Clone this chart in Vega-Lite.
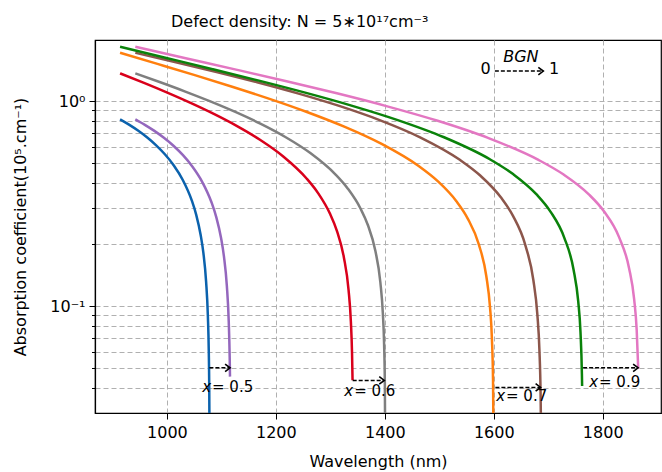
{
  "$schema": "https://vega.github.io/schema/vega-lite/v6.json",
  "autosize": {"type": "none"},
  "padding": {"left": 95, "top": 40, "right": 1, "bottom": 59},
  "width": 566,
  "height": 373,
  "background": "white",
  "title": {
    "text": "Defect density: N = 5∗10¹⁷cm⁻³",
    "anchor": "start",
    "frame": "group",
    "dx": 76,
    "dy": 17,
    "offset": 14,
    "baseline": "alphabetic",
    "font": "DejaVu Sans",
    "fontSize": 16,
    "fontWeight": "normal",
    "color": "black"
  },
  "config": {
    "font": "DejaVu Sans",
    "view": {"stroke": "black", "strokeWidth": 1.2},
    "axis": {
      "domainColor": "black",
      "domainWidth": 1.2,
      "tickColor": "black",
      "tickWidth": 1,
      "labelColor": "black",
      "labelFont": "DejaVu Sans",
      "labelFontSize": 16,
      "titleFont": "DejaVu Sans",
      "titleFontSize": 16,
      "titleFontWeight": "normal",
      "titleColor": "black",
      "gridColor": "#b0b0b0",
      "gridDash": [5, 3],
      "gridWidth": 1
    }
  },
  "datasets": {
    "curves": [
      {"s": "0.5-0", "lam": 914, "alpha": 0.814},
      {"s": "0.5-0", "lam": 930.45, "alpha": 0.767},
      {"s": "0.5-0", "lam": 946.9, "alpha": 0.7176},
      {"s": "0.5-0", "lam": 963.35, "alpha": 0.6654},
      {"s": "0.5-0", "lam": 979.8, "alpha": 0.6099},
      {"s": "0.5-0", "lam": 996.25, "alpha": 0.5502},
      {"s": "0.5-0", "lam": 1012.7, "alpha": 0.4851},
      {"s": "0.5-0", "lam": 1029.15, "alpha": 0.4123},
      {"s": "0.5-0", "lam": 1045.6, "alpha": 0.3279},
      {"s": "0.5-0", "lam": 1053.83, "alpha": 0.2787},
      {"s": "0.5-0", "lam": 1062.05, "alpha": 0.2216},
      {"s": "0.5-0", "lam": 1067.02, "alpha": 0.1812},
      {"s": "0.5-0", "lam": 1071.92, "alpha": 0.1321},
      {"s": "0.5-0", "lam": 1075.21, "alpha": 0.0893},
      {"s": "0.5-0", "lam": 1076.86, "alpha": 0.0604},
      {"s": "0.5-0", "lam": 1077.68, "alpha": 0.0408},
      {"s": "0.5-0", "lam": 1078.17, "alpha": 0.0243},

      {"s": "0.5-1", "lam": 942, "alpha": 0.814},
      {"s": "0.5-1", "lam": 959.5, "alpha": 0.7657},
      {"s": "0.5-1", "lam": 977, "alpha": 0.7152},
      {"s": "0.5-1", "lam": 994.5, "alpha": 0.6619},
      {"s": "0.5-1", "lam": 1012, "alpha": 0.6053},
      {"s": "0.5-1", "lam": 1029.5, "alpha": 0.5445},
      {"s": "0.5-1", "lam": 1047, "alpha": 0.4784},
      {"s": "0.5-1", "lam": 1064.5, "alpha": 0.4049},
      {"s": "0.5-1", "lam": 1082, "alpha": 0.32},
      {"s": "0.5-1", "lam": 1090.75, "alpha": 0.2709},
      {"s": "0.5-1", "lam": 1099.5, "alpha": 0.2141},
      {"s": "0.5-1", "lam": 1104.75, "alpha": 0.1741},
      {"s": "0.5-1", "lam": 1110, "alpha": 0.1258},
      {"s": "0.5-1", "lam": 1113.5, "alpha": 0.0842},
      {"s": "0.5-1", "lam": 1115.25, "alpha": 0.0563},
      {"s": "0.5-1", "lam": 1115.8, "alpha": 0.0453},

      {"s": "0.6-0", "lam": 914, "alpha": 1.365},
      {"s": "0.6-0", "lam": 956.8, "alpha": 1.2289},
      {"s": "0.6-0", "lam": 999.6, "alpha": 1.1018},
      {"s": "0.6-0", "lam": 1042.4, "alpha": 0.9818},
      {"s": "0.6-0", "lam": 1085.2, "alpha": 0.8674},
      {"s": "0.6-0", "lam": 1128, "alpha": 0.7565},
      {"s": "0.6-0", "lam": 1170.8, "alpha": 0.6472},
      {"s": "0.6-0", "lam": 1213.6, "alpha": 0.5364},
      {"s": "0.6-0", "lam": 1256.4, "alpha": 0.419},
      {"s": "0.6-0", "lam": 1277.8, "alpha": 0.3547},
      {"s": "0.6-0", "lam": 1299.2, "alpha": 0.2827},
      {"s": "0.6-0", "lam": 1312.04, "alpha": 0.2328},
      {"s": "0.6-0", "lam": 1324.88, "alpha": 0.1727},
      {"s": "0.6-0", "lam": 1333.44, "alpha": 0.1201},
      {"s": "0.6-0", "lam": 1337.72, "alpha": 0.0838},
      {"s": "0.6-0", "lam": 1339.86, "alpha": 0.0586},
      {"s": "0.6-0", "lam": 1340.8, "alpha": 0.0435},

      {"s": "0.6-1", "lam": 942, "alpha": 1.365},
      {"s": "0.6-1", "lam": 987.9, "alpha": 1.2348},
      {"s": "0.6-1", "lam": 1033.8, "alpha": 1.1125},
      {"s": "0.6-1", "lam": 1079.7, "alpha": 0.9964},
      {"s": "0.6-1", "lam": 1125.6, "alpha": 0.8849},
      {"s": "0.6-1", "lam": 1171.5, "alpha": 0.7761},
      {"s": "0.6-1", "lam": 1217.4, "alpha": 0.668},
      {"s": "0.6-1", "lam": 1263.3, "alpha": 0.5575},
      {"s": "0.6-1", "lam": 1309.2, "alpha": 0.4392},
      {"s": "0.6-1", "lam": 1332.15, "alpha": 0.3738},
      {"s": "0.6-1", "lam": 1355.1, "alpha": 0.3001},
      {"s": "0.6-1", "lam": 1368.87, "alpha": 0.2485},
      {"s": "0.6-1", "lam": 1382.64, "alpha": 0.186},
      {"s": "0.6-1", "lam": 1391.82, "alpha": 0.1307},
      {"s": "0.6-1", "lam": 1396.41, "alpha": 0.0921},
      {"s": "0.6-1", "lam": 1398.71, "alpha": 0.065},
      {"s": "0.6-1", "lam": 1400.08, "alpha": 0.0411},
      {"s": "0.6-1", "lam": 1400.77, "alpha": 0.0205},

      {"s": "0.7-0", "lam": 914, "alpha": 1.72},
      {"s": "0.7-0", "lam": 982.6, "alpha": 1.5178},
      {"s": "0.7-0", "lam": 1051.2, "alpha": 1.3376},
      {"s": "0.7-0", "lam": 1119.8, "alpha": 1.1746},
      {"s": "0.7-0", "lam": 1188.4, "alpha": 1.0247},
      {"s": "0.7-0", "lam": 1257, "alpha": 0.8844},
      {"s": "0.7-0", "lam": 1325.6, "alpha": 0.7501},
      {"s": "0.7-0", "lam": 1394.2, "alpha": 0.6176},
      {"s": "0.7-0", "lam": 1462.8, "alpha": 0.4806},
      {"s": "0.7-0", "lam": 1497.1, "alpha": 0.4067},
      {"s": "0.7-0", "lam": 1531.4, "alpha": 0.3246},
      {"s": "0.7-0", "lam": 1551.98, "alpha": 0.268},
      {"s": "0.7-0", "lam": 1572.56, "alpha": 0.1999},
      {"s": "0.7-0", "lam": 1586.28, "alpha": 0.1402},
      {"s": "0.7-0", "lam": 1593.14, "alpha": 0.0987},
      {"s": "0.7-0", "lam": 1596.57, "alpha": 0.0696},
      {"s": "0.7-0", "lam": 1598.63, "alpha": 0.044},
      {"s": "0.7-0", "lam": 1599.66, "alpha": 0.022},

      {"s": "0.7-1", "lam": 942, "alpha": 1.72},
      {"s": "0.7-1", "lam": 1016.55, "alpha": 1.547},
      {"s": "0.7-1", "lam": 1091.1, "alpha": 1.3864},
      {"s": "0.7-1", "lam": 1165.65, "alpha": 1.235},
      {"s": "0.7-1", "lam": 1240.2, "alpha": 1.0903},
      {"s": "0.7-1", "lam": 1314.75, "alpha": 0.9496},
      {"s": "0.7-1", "lam": 1389.3, "alpha": 0.8098},
      {"s": "0.7-1", "lam": 1463.85, "alpha": 0.6672},
      {"s": "0.7-1", "lam": 1538.4, "alpha": 0.5154},
      {"s": "0.7-1", "lam": 1575.68, "alpha": 0.4321},
      {"s": "0.7-1", "lam": 1612.95, "alpha": 0.3393},
      {"s": "0.7-1", "lam": 1635.32, "alpha": 0.2753},
      {"s": "0.7-1", "lam": 1657.68, "alpha": 0.1994},
      {"s": "0.7-1", "lam": 1672.59, "alpha": 0.1344},
      {"s": "0.7-1", "lam": 1680.05, "alpha": 0.0908},
      {"s": "0.7-1", "lam": 1683.77, "alpha": 0.0615},
      {"s": "0.7-1", "lam": 1686.01, "alpha": 0.0367},
      {"s": "0.7-1", "lam": 1686.76, "alpha": 0.0249},

      {"s": "0.9-0", "lam": 914, "alpha": 1.84},
      {"s": "0.9-0", "lam": 998.95, "alpha": 1.6227},
      {"s": "0.9-0", "lam": 1083.9, "alpha": 1.4306},
      {"s": "0.9-0", "lam": 1168.85, "alpha": 1.2576},
      {"s": "0.9-0", "lam": 1253.8, "alpha": 1.0988},
      {"s": "0.9-0", "lam": 1338.75, "alpha": 0.95},
      {"s": "0.9-0", "lam": 1423.7, "alpha": 0.8072},
      {"s": "0.9-0", "lam": 1508.65, "alpha": 0.6658},
      {"s": "0.9-0", "lam": 1593.6, "alpha": 0.5188},
      {"s": "0.9-0", "lam": 1636.08, "alpha": 0.4392},
      {"s": "0.9-0", "lam": 1678.55, "alpha": 0.3505},
      {"s": "0.9-0", "lam": 1704.04, "alpha": 0.2891},
      {"s": "0.9-0", "lam": 1729.52, "alpha": 0.2153},
      {"s": "0.9-0", "lam": 1746.51, "alpha": 0.1505},
      {"s": "0.9-0", "lam": 1755.01, "alpha": 0.1056},
      {"s": "0.9-0", "lam": 1759.25, "alpha": 0.0743},
      {"s": "0.9-0", "lam": 1761.8, "alpha": 0.0467},
      {"s": "0.9-0", "lam": 1762.2, "alpha": 0.0408},

      {"s": "0.9-1", "lam": 942, "alpha": 1.84},
      {"s": "0.9-1", "lam": 1034.5, "alpha": 1.618},
      {"s": "0.9-1", "lam": 1127, "alpha": 1.4234},
      {"s": "0.9-1", "lam": 1219.5, "alpha": 1.2493},
      {"s": "0.9-1", "lam": 1312, "alpha": 1.0905},
      {"s": "0.9-1", "lam": 1404.5, "alpha": 0.9424},
      {"s": "0.9-1", "lam": 1497, "alpha": 0.801},
      {"s": "0.9-1", "lam": 1589.5, "alpha": 0.661},
      {"s": "0.9-1", "lam": 1682, "alpha": 0.5165},
      {"s": "0.9-1", "lam": 1728.25, "alpha": 0.438},
      {"s": "0.9-1", "lam": 1774.5, "alpha": 0.3506},
      {"s": "0.9-1", "lam": 1802.25, "alpha": 0.29},
      {"s": "0.9-1", "lam": 1830, "alpha": 0.217},
      {"s": "0.9-1", "lam": 1848.5, "alpha": 0.1527},
      {"s": "0.9-1", "lam": 1857.75, "alpha": 0.1078},
      {"s": "0.9-1", "lam": 1862.38, "alpha": 0.0763},
      {"s": "0.9-1", "lam": 1865.2, "alpha": 0.0495}
    ],
    "arrows": [
      {"lam": 1078, "lam2": 1116, "alpha": 0.05},
      {"lam": 1341, "lam2": 1399, "alpha": 0.0434},
      {"lam": 1603, "lam2": 1686, "alpha": 0.0401},
      {"lam": 1764, "lam2": 1865, "alpha": 0.05},
      {"lam": 1602, "lam2": 1691, "alpha": 1.40}
    ],
    "labels": [
      {"lam": 1081, "alpha": 0.0401, "v": "= 0.5"},
      {"lam": 1342, "alpha": 0.0386, "v": "= 0.6"},
      {"lam": 1620.7, "alpha": 0.0364, "v": "= 0.7"},
      {"lam": 1791.4, "alpha": 0.0427, "v": "= 0.9"}
    ],
    "digits": [
      {"lam": 1585, "alpha": 1.43, "v": "0"},
      {"lam": 1710.6, "alpha": 1.43, "v": "1"}
    ],
    "bgn": [
      {"lam": 1649.7, "alpha": 1.645, "v": "BGN"}
    ]
  },
  "layer": [
    {
      "data": {"name": "curves"},
      "mark": {"type": "line", "strokeWidth": 2.5, "clip": true, "interpolate": "monotone"},
      "encoding": {
        "x": {
          "field": "lam", "type": "quantitative",
          "scale": {"domain": [868, 1907], "nice": false, "zero": false},
          "axis": {
            "values": [1000, 1200, 1400, 1600, 1800],
            "format": "d",
            "title": "Wavelength  (nm)",
            "titleX": 283,
            "titleY": 53,
            "titleBaseline": "alphabetic",
            "tickSize": 6,
            "labelPadding": 5,
            "grid": true
          }
        },
        "y": {
          "field": "alpha", "type": "quantitative",
          "scale": {"type": "log", "domain": [0.0301, 1.985], "nice": false},
          "axis": {
            "values": [0.04, 0.05, 0.06, 0.07, 0.08, 0.09, 0.1, 0.2, 0.3, 0.4, 0.5, 0.6, 0.7, 0.8, 0.9, 1],
            "labelExpr": "datum.value == 1 ? '10⁰' : (datum.value == 0.1 ? '10⁻¹' : '')",
            "tickSize": {"condition": {"test": "datum.value == 1 || datum.value == 0.1", "value": 6}, "value": 3.5},
            "labelPadding": 4,
            "title": "Absorption coefficient(10⁵.cm⁻¹)",
            "titleX": -75,
            "titleY": 186.5,
            "titleAngle": -90,
            "titleBaseline": "middle",
            "titleAlign": "center",
            "grid": true
          }
        },
        "color": {
          "field": "s", "type": "nominal", "legend": null,
          "scale": {
            "domain": ["0.5-0", "0.5-1", "0.6-0", "0.6-1", "0.7-0", "0.7-1", "0.9-0", "0.9-1"],
            "range": ["#0b62ad", "#9467bd", "#d9001b", "#7f7f7f", "#ff7f0e", "#8c564b", "#0a820a", "#e377c2"]
          }
        }
      }
    },
    {
      "data": {"name": "arrows"},
      "mark": {"type": "rule", "color": "black", "strokeWidth": 1.5, "strokeDash": [4, 2]},
      "encoding": {
        "x": {"field": "lam", "type": "quantitative"},
        "x2": {"field": "lam2"},
        "y": {"field": "alpha", "type": "quantitative"}
      }
    },
    {
      "data": {"name": "arrows"},
      "mark": {"type": "point", "shape": "M-1,-0.75L0,0L-1,0.75", "filled": false, "stroke": "black", "strokeWidth": 1.6, "size": 100, "opacity": 1},
      "encoding": {
        "x": {"field": "lam2", "type": "quantitative"},
        "y": {"field": "alpha", "type": "quantitative"}
      }
    },
    {
      "data": {"name": "labels"},
      "mark": {"type": "text", "text": "x", "fontStyle": "italic", "fontSize": 15, "align": "right", "baseline": "middle", "dx": 0, "color": "black"},
      "encoding": {
        "x": {"field": "lam", "type": "quantitative"},
        "y": {"field": "alpha", "type": "quantitative"}
      }
    },
    {
      "data": {"name": "labels"},
      "mark": {"type": "text", "fontSize": 15, "align": "left", "baseline": "middle", "dx": 1, "color": "black"},
      "encoding": {
        "x": {"field": "lam", "type": "quantitative"},
        "y": {"field": "alpha", "type": "quantitative"},
        "text": {"field": "v"}
      }
    },
    {
      "data": {"name": "digits"},
      "mark": {"type": "text", "fontSize": 16, "align": "center", "baseline": "middle", "color": "black"},
      "encoding": {
        "x": {"field": "lam", "type": "quantitative"},
        "y": {"field": "alpha", "type": "quantitative"},
        "text": {"field": "v"}
      }
    },
    {
      "data": {"name": "bgn"},
      "mark": {"type": "text", "fontSize": 16, "fontStyle": "italic", "align": "center", "baseline": "middle", "color": "black"},
      "encoding": {
        "x": {"field": "lam", "type": "quantitative"},
        "y": {"field": "alpha", "type": "quantitative"},
        "text": {"field": "v"}
      }
    }
  ]
}
